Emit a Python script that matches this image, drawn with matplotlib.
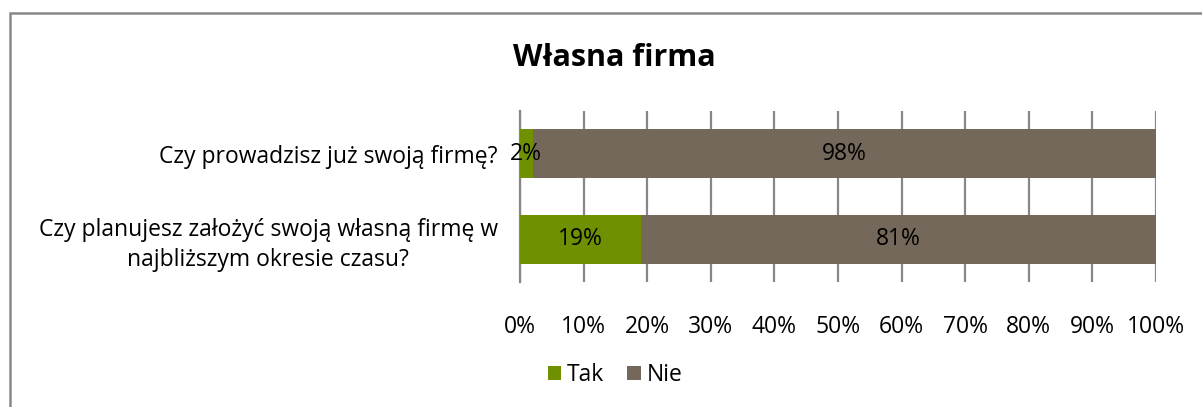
import matplotlib.pyplot as plt
from matplotlib.patches import Rectangle

plt.rcParams["font.family"] = ["Open Sans", "DejaVu Sans"]

questions = [
    "Czy planujesz założyć swoją własną firmę w\nnajbliższym okresie czasu?",
    "Czy prowadzisz już swoją firmę?",
]
tak = [19, 2]
nie = [81, 98]
xticks = [0, 10, 20, 30, 40, 50, 60, 70, 80, 90, 100]

GREEN = "#6f9000"
BROWN = "#736859"
GRID = "#878787"
FS = 16.5

fig = plt.figure(figsize=(12.02, 4.07), dpi=100)
W, H = 1202, 407

# outer chart frame (only top and left visible in the crop)
fig.patches.append(
    Rectangle((10 / W, -0.1), 1.2, 1 - 13 / H + 0.1, transform=fig.transFigure,
              fill=False, edgecolor="#888888", linewidth=1.8)
)

ax = fig.add_axes([520 / W, 1 - 282 / H, (1156 - 520) / W, (282 - 111) / H])
y = range(len(questions))
bars_t = ax.barh(y, tak, height=0.57, color=GREEN, label="Tak", zorder=3)
bars_n = ax.barh(y, nie, left=tak, height=0.57, color=BROWN, label="Nie", zorder=3)

for i in y:
    ax.text(tak[i] / 2, i, f"{tak[i]}%", ha="center", va="center", fontsize=FS, zorder=4)
    ax.text(tak[i] + nie[i] / 2, i, f"{nie[i]}%", ha="center", va="center", fontsize=FS, zorder=4)

ax.set_xlim(0, 100)
ax.set_ylim(-0.5, 1.5)
ax.set_xticks(xticks)
ax.set_xticklabels([f"{v}%" for v in xticks], fontsize=FS)
ax.set_yticks(list(y))
ax.set_yticklabels(questions, fontsize=FS, ha="right", multialignment="center",
                   linespacing=1.3)
ax.tick_params(axis="x", length=0, pad=24)
ax.tick_params(axis="y", length=0, pad=16)
ax.xaxis.grid(True, color=GRID, linewidth=1.6, zorder=0)
for s in ["top", "right", "bottom"]:
    ax.spines[s].set_visible(False)
ax.spines["left"].set_color(GRID)
ax.spines["left"].set_linewidth(1.6)

fig.text(614 / W, 1 - 58 / H, "Własna firma", ha="center", va="center",
         fontsize=22, fontweight="bold")

fig.legend(handles=[bars_t, bars_n], loc="center", bbox_to_anchor=(615 / W, 1 - 375 / H),
           ncol=2, frameon=False, fontsize=FS, handlelength=0.6, handleheight=0.6,
           handletextpad=0.25, columnspacing=1.0)

fig.savefig("out.png", dpi=100)
